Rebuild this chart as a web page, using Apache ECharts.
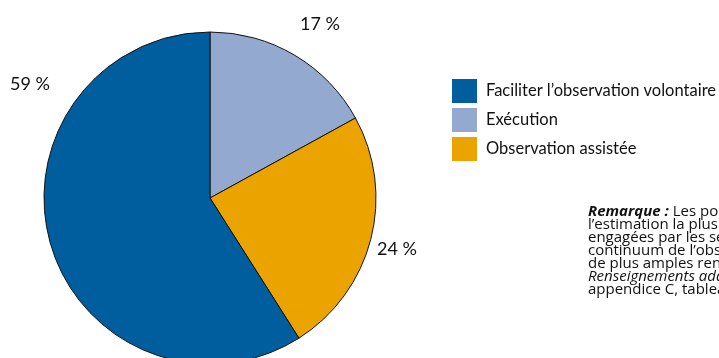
<!DOCTYPE html>
<html>
<head>
<meta charset="utf-8">
<script src="https://cdn.jsdelivr.net/npm/echarts@6/dist/echarts.min.js"></script>
<style>
  html, body {margin: 0; padding: 0; background: #fff;}
  #chart {width: 719px; height: 358px;}
</style>
</head>
<body>
<div id="chart"></div>
<script>
// slices, clockwise from 12 o'clock
const categories = ['Exécution', 'Observation assistée', 'Faciliter l’observation volontaire']
const values = [17, 24, 59]
const legendOrder = ['Faciliter l’observation volontaire', 'Exécution', 'Observation assistée']
const colors = ['#93a9cf', '#eba300', '#005e9e']
// where the percent labels sit (label anchors, not marks)
const labelSpots = [[320, 24], [397, 249], [30, 84]]

const noteLines = [
  '{b|Remarque :} Les pourcentages représentent',
  'l’estimation la plus exacte des ressources',
  'engagées par les secteurs de programme dans le',
  'continuum de l’observation de la loi. Pour obtenir',
  'de plus amples renseignements, se reporter à',
  '{i|Renseignements additionnels sur le rendement},',
  'appendice C, tableau 5.'
]

const font = 'Lato, "DejaVu Sans", sans-serif'
const noteFont = '"Open Sans", Lato, sans-serif'
const chart = echarts.init(document.getElementById('chart'), null, {renderer: 'canvas'})

chart.setOption({
  animation: false,
  title: {
    text: noteLines.join('\n'),
    left: 583,
    top: 200,
    textStyle: {
      fontFamily: noteFont,
      fontSize: 15,
      fontWeight: 'normal',
      lineHeight: 13,
      color: '#111',
      rich: {
        b: {fontFamily: noteFont, fontSize: 15, lineHeight: 13, fontWeight: 'bold', fontStyle: 'italic', color: '#111'},
        i: {fontFamily: noteFont, fontSize: 15, lineHeight: 13, fontStyle: 'italic', color: '#111'}
      }
    }
  },
  legend: {
    orient: 'vertical',
    left: 447,
    top: 74,
    data: legendOrder,
    icon: 'rect',
    itemWidth: 25,
    itemHeight: 24,
    itemGap: 5,
    itemStyle: {borderWidth: 0},
    textStyle: {fontFamily: font, fontSize: 16.5, color: '#111', padding: [0, 0, 0, 4]}
  },
  series: [{
    type: 'pie',
    center: [210, 198],
    radius: 166,
    startAngle: 90,
    clockwise: true,
    avoidLabelOverlap: false,
    data: categories.map((name, i) => ({
      name,
      value: values[i],
      itemStyle: {color: colors[i]}
    })),
    itemStyle: {borderColor: '#111', borderWidth: 1},
    emphasis: {disabled: true},
    label: {
      show: true,
      position: 'outside',
      formatter: '{c} %',
      fontFamily: font,
      fontSize: 18,
      color: '#111'
    },
    labelLine: {show: false},
    labelLayout: (params) => ({
      x: labelSpots[params.dataIndex][0],
      y: labelSpots[params.dataIndex][1],
      align: 'center',
      verticalAlign: 'middle'
    })
  }]
})
</script>
</body>
</html>
